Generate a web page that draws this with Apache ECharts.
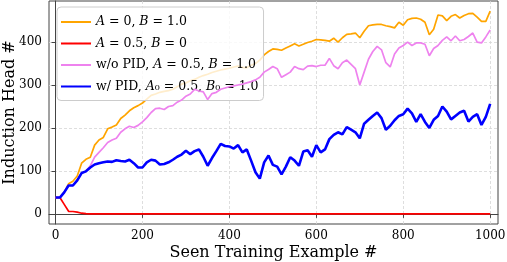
<!DOCTYPE html>
<html><head><meta charset="utf-8">
<script src="https://cdn.jsdelivr.net/npm/echarts@6/dist/echarts.min.js"></script>
<style>html,body{margin:0;padding:0;background:#fff}#c{width:507px;height:262px}</style>
</head><body><div id="c"></div>
<script>
const xSteps = [0,10,20,30,40,50,60,70,80,90,100,110,120,130,140,150,160,170,180,190,200,210,220,230,240,250,260,270,280,290,300,310,320,330,340,350,360,370,380,390,400,410,420,430,440,450,460,470,480,490,500,510,520,530,540,550,560,570,580,590,600,610,620,630,640,650,660,670,680,690,700,710,720,730,740,750,760,770,780,790,800,810,820,830,840,850,860,870,880,890,900,910,920,930,940,950,960,970,980,990,1000];
const seriesNames = ['A=0,B=1.0','A=0.5,B=0','w/o PID','w/ PID'];
const orangeVals = [38,38,50,70,76,88,118,127,132,160,172,178,198,202,207,222,230,240,247,252,258,267,276,279,283,285,287,290,296,302,305,310,313,318,322,325,329,332,335,337,339,342,344,341,340,346,350,358,370,378,384,383,381,386,391,396,391,395,399,402,406,405,404,402,409,400,410,418,419,421,410,425,438,440,441,441,438,436,433,446,439,452,455,456,453,446,417,430,463,461,450,460,464,456,462,466,467,458,448,448,472];
const redVals = [38,38,22,6,5.5,4,1.5,0.6,0.2,0,0,0,0,0,0,0,0,0,0,0,0,0,0,0,0,0,0,0,0,0,0,0,0,0,0,0,0,0,0,0,0,0,0,0,0,0,0,0,0,0,0,0,0,0,0,0,0,0,0,0,0,0,0,0,0,0,0,0,0,0,0,0,0,0,0,0,0,0,0,0,0,0,0,0,0,0,0,0,0,0,0,0,0,0,0,0,0,0,0,0,0];
const violetVals = [38,38,50,66,66,78,95,99,112,132,143,154,166,172,176,190,198,204,201,206,214,224,236,245,246,243,250,252,260,265,274,279,290,286,284,266,280,283,290,293,296,298,300,302,305,308,312,318,330,336,343,338,318,324,330,343,338,336,344,345,343,346,346,362,345,338,352,358,348,338,300,330,360,378,390,382,352,342,372,386,392,400,392,398,398,395,368,385,392,404,412,403,414,403,406,413,421,400,398,412,428];
const blueVals = [38,38,50,66,66,78,95,99,108,115,118,120,122,121,125,123,122,126,118,108,108,120,126,124,115,116,120,126,133,138,147,139,146,150,133,112,130,146,163,158,157,152,160,143,150,124,97,82,120,136,114,110,92,110,132,124,112,145,148,133,160,143,150,174,184,190,185,202,196,190,176,210,219,228,236,223,196,205,218,228,232,245,234,214,232,214,200,219,228,250,238,220,228,236,240,215,226,232,207,226,256];
const xTicks = [0,200,400,600,800,1000];
const yTicks = [0,100,200,300,400];
const legendLabels = {
  'A=0,B=1.0': '{it|A}{t| = 0, }{it|B}{t| = 1.0}',
  'A=0.5,B=0': '{it|A}{t| = 0.5, }{it|B}{t| = 0}',
  'w/o PID': '{t|w/o PID, }{it|A}{t| = 0.5, }{it|B}{t| = 1.0}',
  'w/ PID': '{t|w/ PID, }{it|A}{t|\u2080 = 0.5, }{it|B}{t|\u2080 = 1.0}'
};
const colors = ['#FFA500','#FF0000','#EE82EE','#0000FF'];
const widths = [1.7,1.7,1.7,2.6];
const allVals = [orangeVals, redVals, violetVals, blueVals];

const FONT = 'DejaVu Serif';
const chart = echarts.init(document.getElementById('c'), null, {renderer:'canvas'});
const gridLine = {show:true, lineStyle:{color:'#d6d6d6', width:0.8, type:[3,2]}};
chart.setOption({
  animation:false,
  backgroundColor:'#fff',
  grid:{left:49, right:9, top:1, bottom:38, outerBoundsMode:'none', containLabel:false, show:true, borderColor:'#444', borderWidth:1, backgroundColor:'transparent'},
  xAxis:{type:'value', min:-15, max:1018,
    name:'Seen Training Example #', nameLocation:'middle', nameGap:21, nameMoveOverlap:false,
    nameTextStyle:{fontFamily:FONT, fontSize:16, color:'#000'},
    axisLine:{show:true, lineStyle:{color:'#444', width:1}},
    axisTick:{show:true, inside:false, length:4, customValues:xTicks, lineStyle:{color:'#444'}},
    axisLabel:{customValues:xTicks, margin:6, fontFamily:FONT, fontSize:12, color:'#000', formatter:function(v){return String(v);}},
    splitLine:gridLine},
  yAxis:{type:'value', min:-23.6, max:495.6,
    name:'Induction Head #', nameLocation:'middle', nameGap:31, nameMoveOverlap:false,
    nameTextStyle:{fontFamily:FONT, fontSize:16, color:'#000'},
    axisLine:{show:true, lineStyle:{color:'#444', width:1}},
    axisTick:{show:true, inside:false, length:4, customValues:yTicks, lineStyle:{color:'#444'}},
    axisLabel:{customValues:yTicks, margin:7, fontFamily:FONT, fontSize:12, color:'#000', formatter:function(v){return String(v);}},
    splitLine:gridLine},
  legend:{orient:'vertical', left:57, top:7, itemWidth:30, itemHeight:2, itemGap:7.5, itemTextGap:13, icon:'rect',
    padding:[8,5,7,4], backgroundColor:'rgba(255,255,255,0.8)', borderColor:'#cccccc', borderWidth:1, borderRadius:4,
    data:seriesNames,
    formatter:function(n){return legendLabels[n];},
    textStyle:{fontFamily:FONT, fontSize:12.5, color:'#000', lineHeight:14,
      rich:{t:{fontFamily:FONT, fontSize:12.5, color:'#000', lineHeight:14}, it:{fontFamily:FONT, fontStyle:'italic', fontSize:12.5, color:'#000', lineHeight:14}}}},
  series: seriesNames.map(function(n,i){
    return {name:n, type:'line', symbol:'none', showSymbol:false, z:2+i,
      color:colors[i], lineStyle:{color:colors[i], width:widths[i]},
      data: xSteps.map(function(x,j){return [x, allVals[i][j]];})};
  })
});
</script></body></html>
